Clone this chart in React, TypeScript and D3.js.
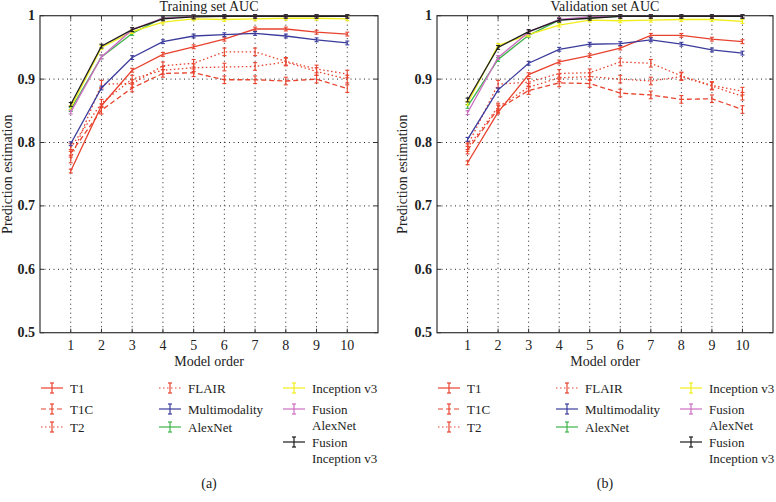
import React from "react";
import * as d3 from "d3";

const modelOrder = [1, 2, 3, 4, 5, 6, 7, 8, 9, 10];
const yTicks = [0.5, 0.6, 0.7, 0.8, 0.9, 1];
const seriesNames = ["T1", "T1C", "T2", "FLAIR", "Multimodality", "AlexNet", "Inception v3", "Fusion AlexNet", "Fusion Inception v3"];

// Training set AUC
const trainT1 = [0.755, 0.858, 0.914, 0.939, 0.951, 0.963, 0.979, 0.979, 0.974, 0.971];
const trainT1C = [0.783, 0.851, 0.886, 0.909, 0.910, 0.899, 0.899, 0.897, 0.900, 0.885];
const trainT2 = [0.792, 0.862, 0.900, 0.914, 0.918, 0.919, 0.920, 0.927, 0.912, 0.900];
const trainFLAIR = [0.774, 0.892, 0.893, 0.921, 0.925, 0.943, 0.943, 0.928, 0.916, 0.908];
const trainMulti = [0.798, 0.886, 0.934, 0.959, 0.968, 0.970, 0.972, 0.968, 0.962, 0.957];
const trainAlex = [0.852, 0.935, 0.972, 0.997, 0.999, 1.0, 1.0, 1.0, 1.0, 1.0];
const trainIncep = [0.855, 0.950, 0.975, 0.990, 0.995, 0.994, 0.995, 0.996, 0.996, 0.995];
const trainFusAlex = [0.848, 0.935, 0.978, 0.996, 0.999, 1.0, 1.0, 1.0, 1.0, 1.0];
const trainFusIncep = [0.860, 0.952, 0.978, 0.995, 0.998, 0.999, 0.999, 0.999, 0.999, 0.999];

// Validation set AUC
const valT1 = [0.768, 0.848, 0.907, 0.927, 0.937, 0.949, 0.969, 0.969, 0.963, 0.959];
const valT1C = [0.788, 0.853, 0.882, 0.894, 0.893, 0.878, 0.875, 0.868, 0.869, 0.852];
const valT2 = [0.792, 0.856, 0.887, 0.902, 0.904, 0.900, 0.897, 0.904, 0.889, 0.873];
const valFLAIR = [0.795, 0.892, 0.895, 0.909, 0.910, 0.927, 0.925, 0.905, 0.890, 0.881];
const valMulti = [0.805, 0.883, 0.925, 0.947, 0.955, 0.956, 0.962, 0.955, 0.946, 0.941];
const valAlex = [0.857, 0.931, 0.969, 0.993, 0.997, 0.999, 0.999, 0.999, 0.999, 0.999];
const valIncep = [0.862, 0.953, 0.970, 0.985, 0.993, 0.992, 0.993, 0.994, 0.994, 0.991];
const valFusAlex = [0.847, 0.934, 0.974, 0.994, 0.998, 1.0, 1.0, 1.0, 1.0, 1.0];
const valFusIncep = [0.867, 0.950, 0.975, 0.993, 0.996, 0.999, 0.999, 0.999, 0.999, 0.999];

const errSmall = 0.003;
const errLarge = 0.006;

const styles = [
  { color: "#e8432e", dash: "", err: errSmall },
  { color: "#e8432e", dash: "5,3", err: errLarge },
  { color: "#e8432e", dash: "1.5,2.5", err: errLarge },
  { color: "#e8432e", dash: "1.5,2.5", err: errLarge },
  { color: "#3b3b9c", dash: "", err: errSmall },
  { color: "#3cb44a", dash: "", err: errSmall },
  { color: "#f0ee1a", dash: "", err: errSmall },
  { color: "#cc6ec4", dash: "", err: errSmall },
  { color: "#1c1c1c", dash: "", err: errSmall },
];

const panels = [
  {
    title: "Training set AUC",
    label: "(a)",
    x0: 40,
    x1: 378,
    data: [trainT1, trainT1C, trainT2, trainFLAIR, trainMulti, trainAlex, trainIncep, trainFusAlex, trainFusIncep],
  },
  {
    title: "Validation set AUC",
    label: "(b)",
    x0: 437,
    x1: 773,
    data: [valT1, valT1C, valT2, valFLAIR, valMulti, valAlex, valIncep, valFusAlex, valFusIncep],
  },
];

const Y0 = 15.7;
const Y1 = 332.7;
const FONT = "'Liberation Serif', 'DejaVu Serif', serif";
const FS = 14;
const LFS = 13;

function LegendMark({ x, y, s }: { x: number; y: number; s: any }) {
  const w = 22;
  return (
    <g>
      <line x1={x} x2={x + w} y1={y} y2={y} stroke={s.color} strokeWidth={1.2} strokeDasharray={s.dash} />
      <line x1={x + w / 2} x2={x + w / 2} y1={y - 5} y2={y + 5} stroke={s.color} strokeWidth={1.2} />
      <line x1={x + w / 2 - 2} x2={x + w / 2 + 2} y1={y - 5} y2={y - 5} stroke={s.color} strokeWidth={1.2} />
      <line x1={x + w / 2 - 2} x2={x + w / 2 + 2} y1={y + 5} y2={y + 5} stroke={s.color} strokeWidth={1.2} />
    </g>
  );
}

function Panel({ p, yLabelX }: { p: any; yLabelX: number }) {
  const x = d3.scaleLinear().domain([0, 11]).range([p.x0, p.x1]);
  const y = d3.scaleLinear().domain([0.5, 1]).range([Y1, Y0]);
  const line = d3
    .line<number>()
    .x((_, i) => x(modelOrder[i]))
    .y((d) => y(d));
  const cx = (p.x0 + p.x1) / 2;
  const lx = p.x0 + 1;
  const legendCols = [lx, lx + 118, lx + 242];
  const rows = [388, 409, 427];
  const legendItems = [
    { i: 0, col: 0, row: rows[0], text: ["T1"] },
    { i: 1, col: 0, row: rows[1], text: ["T1C"] },
    { i: 2, col: 0, row: rows[2], text: ["T2"] },
    { i: 3, col: 1, row: rows[0], text: ["FLAIR"] },
    { i: 4, col: 1, row: rows[1], text: ["Multimodality"] },
    { i: 5, col: 1, row: rows[2], text: ["AlexNet"] },
    { i: 6, col: 2, row: 388, text: ["Inception v3"] },
    { i: 7, col: 2, row: 409, text: ["Fusion", "AlexNet"] },
    { i: 8, col: 2, row: 442, text: ["Fusion", "Inception v3"] },
  ];
  return (
    <g fontFamily={FONT} fontSize={FS} fill="#222">
      {/* grid */}
      {yTicks.filter((t) => t > 0.5 && t < 1).map((t) => (
        <line key={"gy" + t} x1={p.x0} x2={p.x1} y1={y(t)} y2={y(t)} stroke="#222" strokeWidth={1} strokeDasharray="1,3.5" />
      ))}
      {modelOrder.map((t) => (
        <line key={"gx" + t} x1={x(t)} x2={x(t)} y1={Y0} y2={Y1} stroke="#222" strokeWidth={1} strokeDasharray="1,3.5" />
      ))}
      {/* ticks */}
      {modelOrder.map((t) => (
        <g key={"tx" + t}>
          <line x1={x(t)} x2={x(t)} y1={Y1} y2={Y1 - 4} stroke="#333" />
          <line x1={x(t)} x2={x(t)} y1={Y0} y2={Y0 + 4} stroke="#333" />
          <text x={x(t)} y={Y1 + 17} textAnchor="middle">{t}</text>
        </g>
      ))}
      {yTicks.map((t) => (
        <g key={"ty" + t}>
          <line x1={p.x0} x2={p.x0 + 4} y1={y(t)} y2={y(t)} stroke="#333" />
          <line x1={p.x1} x2={p.x1 - 4} y1={y(t)} y2={y(t)} stroke="#333" />
          <text x={p.x0 - 5} y={y(t) + 4.5} textAnchor="end" fontWeight={600}>{t === 1 ? "1" : t.toFixed(1)}</text>
        </g>
      ))}
      {/* series */}
      {p.data.map((vals: number[], si: number) => {
        const s = styles[si];
        return (
          <g key={"s" + si}>
            <path d={line(vals) || ""} fill="none" stroke={s.color} strokeWidth={1.3} strokeDasharray={s.dash} />
            {vals.map((v, i) => (
              <g key={i} stroke={s.color} strokeWidth={1.1}>
                <line x1={x(modelOrder[i])} x2={x(modelOrder[i])} y1={y(v - s.err)} y2={y(Math.min(v + s.err, 1.0015))} />
                <line x1={x(modelOrder[i]) - 2} x2={x(modelOrder[i]) + 2} y1={y(v - s.err)} y2={y(v - s.err)} />
                <line x1={x(modelOrder[i]) - 2} x2={x(modelOrder[i]) + 2} y1={y(Math.min(v + s.err, 1.0015))} y2={y(Math.min(v + s.err, 1.0015))} />
              </g>
            ))}
          </g>
        );
      })}
      {/* frame */}
      <rect x={p.x0} y={Y0} width={p.x1 - p.x0} height={Y1 - Y0} fill="none" stroke="#333" strokeWidth={1.2} />
      {/* titles */}
      <text x={cx} y={11} textAnchor="middle">{p.title}</text>
      <text x={cx} y={366} textAnchor="middle">Model order</text>
      <text transform={`translate(${yLabelX},${(Y0 + Y1) / 2}) rotate(-90)`} textAnchor="middle">Prediction estimation</text>
      {/* legend */}
      <g fontSize={LFS}>
        {legendItems.map((it) => (
          <g key={"l" + it.i}>
            <LegendMark x={legendCols[it.col]} y={it.row} s={styles[it.i]} />
            {it.text.map((tx, k) => (
              <text key={k} x={legendCols[it.col] + 29} y={it.row + 4.5 + k * 16}>{tx}</text>
            ))}
          </g>
        ))}
      </g>
      <text x={cx} y={488} textAnchor="middle">{p.label}</text>
    </g>
  );
}

export default function App() {
  return (
    <svg width={776} height={502} style={{ position: "absolute", left: 0, top: 0, background: "#fff" }}>
      <rect x={0} y={0} width={776} height={502} fill="#fff" />
      <Panel p={panels[0]} yLabelX={12} />
      <Panel p={panels[1]} yLabelX={407} />
    </svg>
  );
}
